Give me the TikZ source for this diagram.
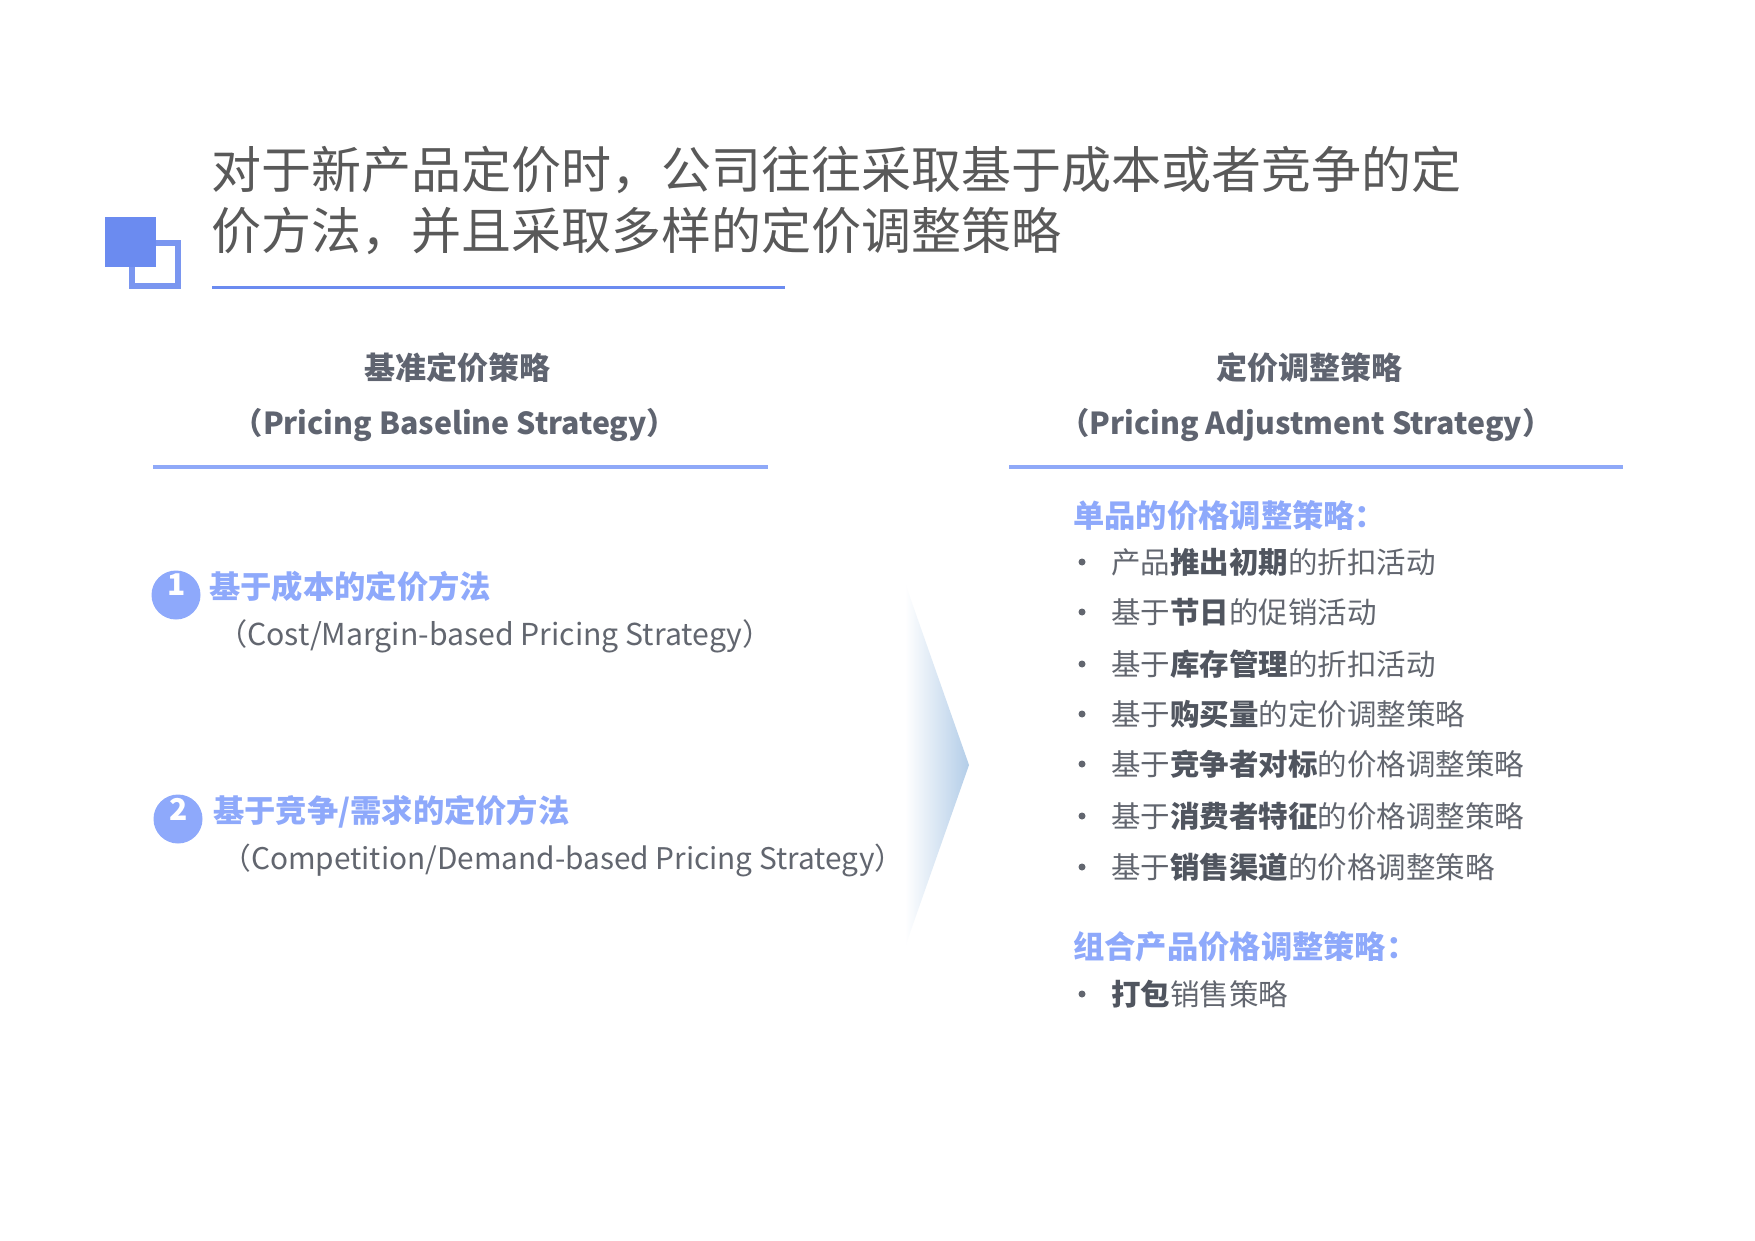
\documentclass[tikz,border=0pt]{standalone}
\usepackage{fontspec}
\setmainfont{Noto Sans CJK SC}
\definecolor{sqblue}{HTML}{6B8BF0}
\definecolor{sqline}{HTML}{7A96F0}
\definecolor{titlegray}{HTML}{595959}
\definecolor{headgray}{HTML}{5F6470}
\definecolor{lineblue}{HTML}{8FA9F8}
\definecolor{hblue}{HTML}{8EA9FB}
\definecolor{itemgray}{HTML}{62666F}
\definecolor{boldgray}{HTML}{50555F}
\definecolor{chevblue}{HTML}{B3CDE8}
\begin{document}
\begin{tikzpicture}[x=1pt,y=-1pt,
  titletext/.style={anchor=west, inner sep=0pt, text=titlegray, font=\fontsize{50}{60}\selectfont},
  headtext/.style={anchor=center, inner sep=0pt, text=headgray, font=\fontsize{31}{36}\selectfont\bfseries},
  headlatin/.style={anchor=center, inner sep=0pt, text=headgray, font=\fontsize{30.3}{36}\selectfont\bfseries},
  sepline/.style={draw=lineblue, line width=4pt},
  numcircle/.style={circle, fill=hblue, minimum size=49pt, inner sep=0pt},
  numtext/.style={inner sep=0pt, text=white, font=\fontsize{30}{34}\selectfont\bfseries},
  bluehead/.style={anchor=west, inner sep=0pt, text=hblue, font=\fontsize{31.3}{36}\selectfont\bfseries},
  subtext/.style={anchor=west, inner sep=0pt, text=itemgray, font=\fontsize{30.2}{34}\selectfont},
  bulletdot/.style={circle, fill=itemgray, minimum size=7pt, inner sep=0pt},
  itemtext/.style={anchor=west, inner sep=0pt, text=itemgray, font=\fontsize{29.5}{34}\selectfont},
]
\useasboundingbox[fill=white] (0,0) rectangle (1755,1241);

% decorative squares
\draw[draw=sqline, line width=6pt, fill=white] (132,243) rectangle (178,286);
\fill[sqblue] (105,217) rectangle (156,267);

% title
\node[titletext] (t1) at (211,170) {对于新产品定价时，公司往往采取基于成本或者竞争的定};
\node[titletext] (t2) at (211,231) {价方法，并且采取多样的定价调整策略};
\coordinate (u1) at (212,287);
\coordinate (u2) at (785,287);
\draw[draw=sqblue, line width=3pt] (u1) -- (u2);

% left header
\node[headtext] (lh1) at (457,368) {基准定价策略};
\node[headlatin] (lh2) at (455,425) {（Pricing Baseline Strategy）};
\coordinate (l1) at (153,467);
\coordinate (l2) at (768,467);
\draw[sepline] (l1) -- (l2);

% right header
\node[headtext] (rh1) at (1309,368) {定价调整策略};
\node[headlatin] (rh2) at (1306,425) {（Pricing Adjustment Strategy）};
\coordinate (r1) at (1009,467);
\coordinate (r2) at (1623,467);
\draw[sepline] (r1) -- (r2);

% left items
\node[numcircle] (c1) at (176,595) {};
\node[numtext] (n1) at (177,585) {1};
\node[bluehead] (m1) at (209,587) {基于成本的定价方法};
\node[subtext] (s1) at (217,636) {（Cost/Margin-based Pricing Strategy）};

\node[numcircle] (c2) at (178,819) {};
\node[numtext] (n2) at (179,809) {2};
\node[bluehead] (m2) at (213,812) {基于竞争/需求的定价方法};
\node[subtext, font=\fontsize{29.8}{34}\selectfont] (s2) at (221,860) {（Competition/Demand-based Pricing Strategy）};

% chevron
\shade[left color=white, right color=chevblue] (905,583) -- (969,765) -- (905,947) -- cycle;

% right list
\node[bluehead] (g1) at (1073,516) {单品的价格调整策略：};
\foreach \y/\t [count=\i] in {562/{产品{\color{boldgray}\bfseries 推出初期}的折扣活动},
  612/{基于{\color{boldgray}\bfseries 节日}的促销活动},
  664/{基于{\color{boldgray}\bfseries 库存管理}的折扣活动},
  714/{基于{\color{boldgray}\bfseries 购买量}的定价调整策略},
  764/{基于{\color{boldgray}\bfseries 竞争者对标}的价格调整策略},
  816/{基于{\color{boldgray}\bfseries 消费者特征}的价格调整策略},
  867/{基于{\color{boldgray}\bfseries 销售渠道}的价格调整策略}} {
  \node[bulletdot] (b\i) at (1082,\y) {};
  \node[itemtext] (i\i) at (1111,\y) {\t};
}
\node[bluehead] (g2) at (1073,947) {组合产品价格调整策略：};
\node[bulletdot] (b8) at (1082,994) {};
\node[itemtext] (i8) at (1111,994) {{\color{boldgray}\bfseries 打包}销售策略};
\end{tikzpicture}
\end{document}
